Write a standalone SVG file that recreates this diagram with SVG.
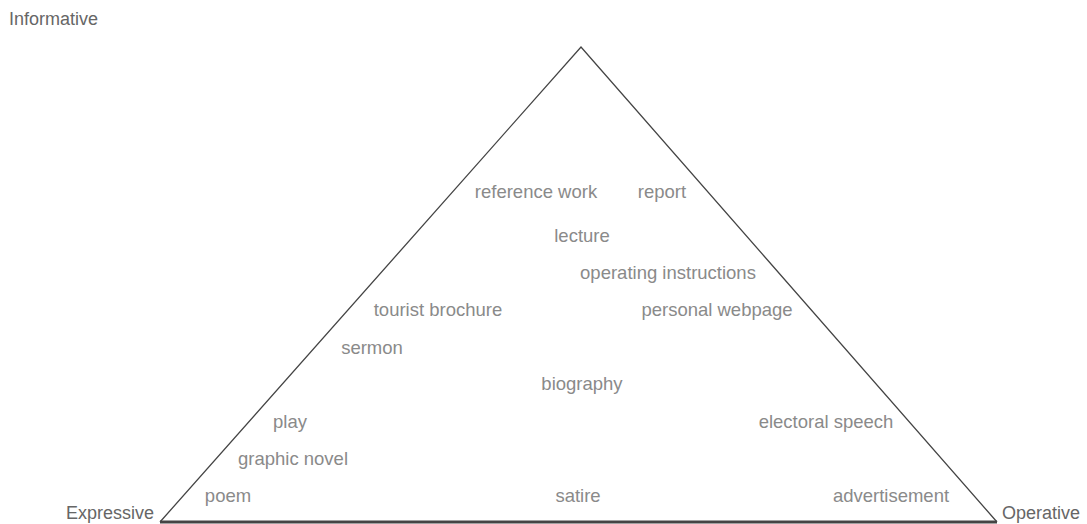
<svg xmlns="http://www.w3.org/2000/svg" width="1087" height="524" viewBox="0 0 1087 524">
  <style>
    .corner { font-family: "Liberation Sans", Arial, sans-serif; font-size: 18px; fill: #666; }
    .item { font-family: "Liberation Sans", Arial, sans-serif; font-size: 18.5px; fill: #8a8a8a; text-anchor: middle; }
    .side { stroke: #444; stroke-width: 1.3; fill: none; }
    .base { stroke: #444; stroke-width: 3; fill: none; }
  </style>
  <rect width="1087" height="524" fill="#fff"/>

  <!-- triangle outline -->
  <g id="connectors">
    <path class="side" d="M160,522 L581,47 L997,522"/>
    <line class="base" x1="160" y1="522" x2="997" y2="522"/>
  </g>

  <!-- corner labels -->
  <g id="informative"><text class="corner" x="9" y="25">Informative</text></g>
  <g id="expressive"><text class="corner" x="66" y="519">Expressive</text></g>
  <g id="operative"><text class="corner" x="1002" y="519">Operative</text></g>

  <!-- text types -->
  <g id="reference-work"><text class="item" x="536" y="198">reference work</text></g>
  <g id="report"><text class="item" x="662" y="198">report</text></g>
  <g id="lecture"><text class="item" x="582" y="242">lecture</text></g>
  <g id="operating-instructions"><text class="item" x="668" y="279">operating instructions</text></g>
  <g id="tourist-brochure"><text class="item" x="438" y="316">tourist brochure</text></g>
  <g id="personal-webpage"><text class="item" x="717" y="316">personal webpage</text></g>
  <g id="sermon"><text class="item" x="372" y="354">sermon</text></g>
  <g id="biography"><text class="item" x="582" y="390">biography</text></g>
  <g id="play"><text class="item" x="290" y="428">play</text></g>
  <g id="electoral-speech"><text class="item" x="826" y="428">electoral speech</text></g>
  <g id="graphic-novel"><text class="item" x="293" y="465">graphic novel</text></g>
  <g id="poem"><text class="item" x="228" y="502">poem</text></g>
  <g id="satire"><text class="item" x="578" y="502">satire</text></g>
  <g id="advertisement"><text class="item" x="891" y="502">advertisement</text></g>
</svg>
